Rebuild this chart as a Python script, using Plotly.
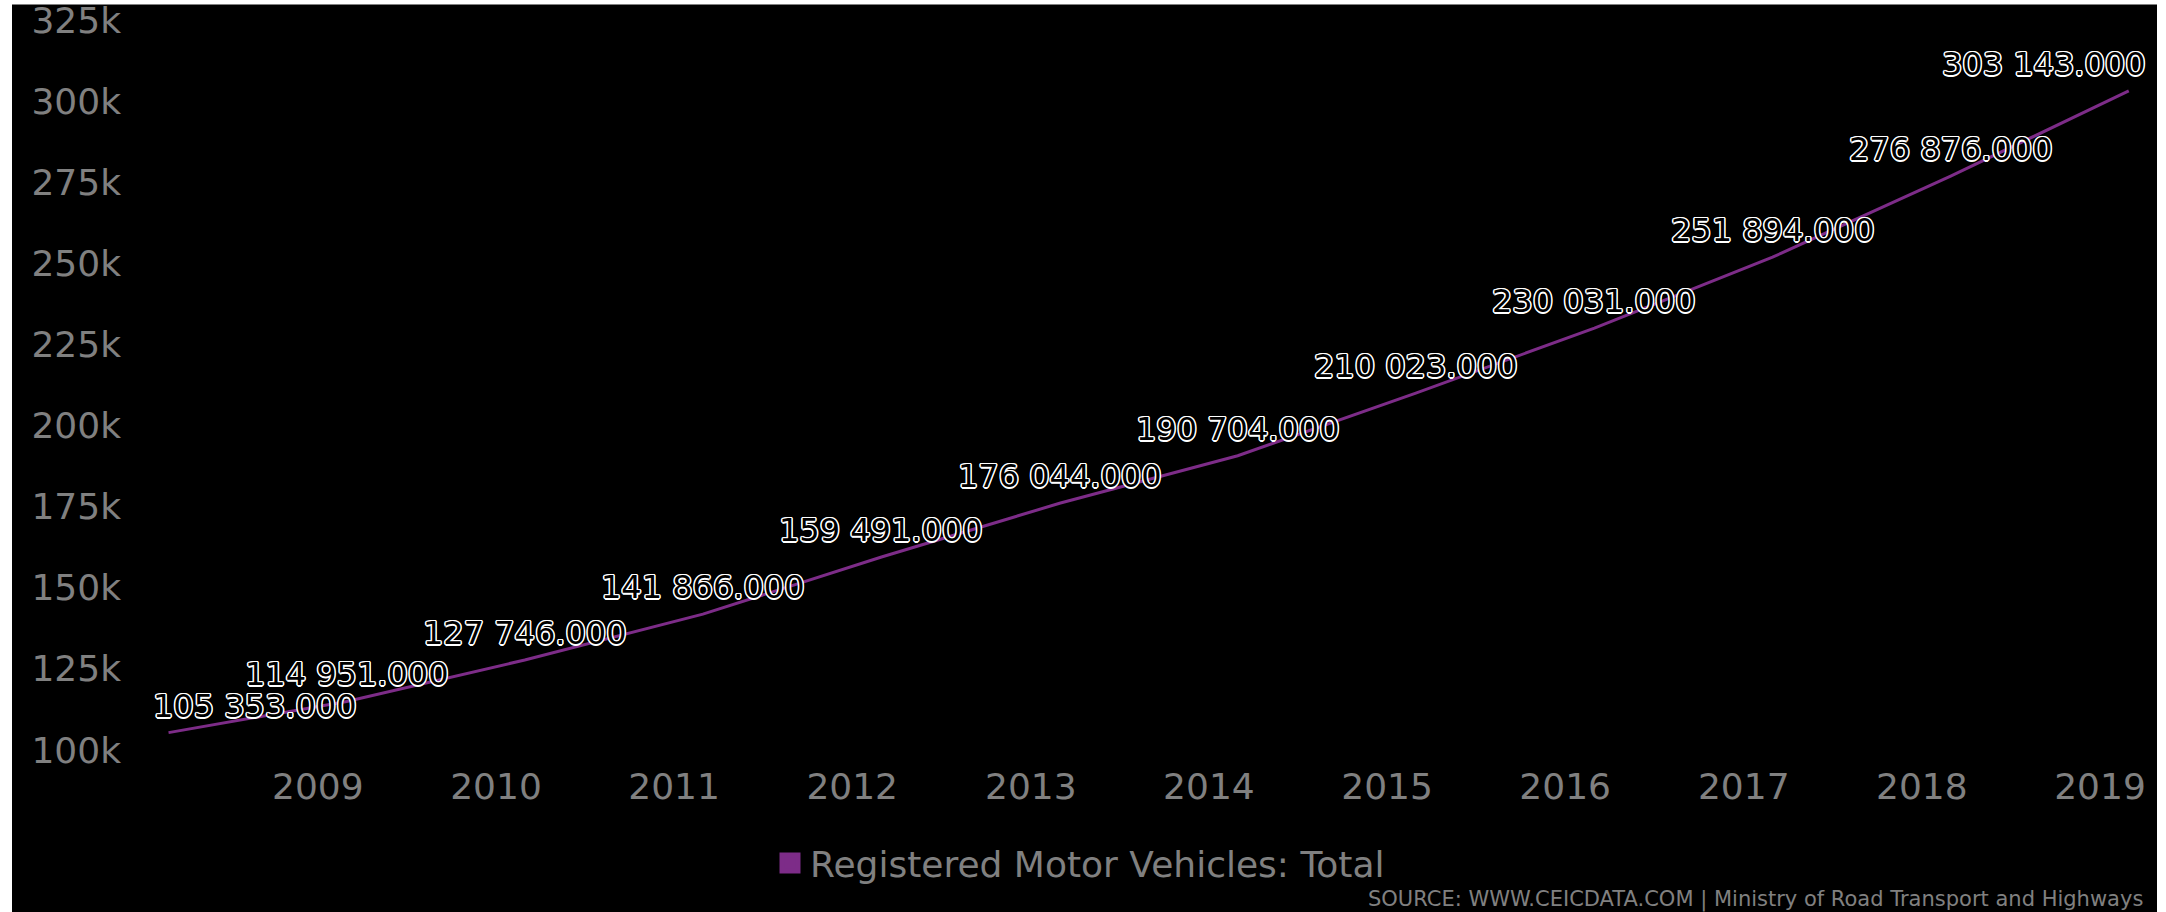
import plotly.graph_objects as go

# ---- data ----
dates = ["2008-03-01", "2009-03-01", "2010-03-01", "2011-03-01", "2012-03-01", "2013-03-01",
         "2014-03-01", "2015-03-01", "2016-03-01", "2017-03-01", "2018-03-01", "2019-03-01"]
values = [105353, 114951, 127746, 141866, 159491, 176044,
          190704, 210023, 230031, 251894, 276876, 303143]
series_name = "Registered Motor Vehicles: Total"
y_tickvals = [100000, 125000, 150000, 175000, 200000, 225000, 250000, 275000, 300000, 325000]
y_ticktext = ["100k", "125k", "150k", "175k", "200k", "225k", "250k", "275k", "300k", "325k"]
source_text = "SOURCE: WWW.CEICDATA.COM | Ministry of Road Transport and Highways"

# ---- style ----
LINE_COLOR = "#7D2C88"
GREY = "#808080"
FONT = "DejaVu Sans"
_offs = [(1.5, 0), (-1.5, 0), (0, 1.5), (0, -1.5), (1, 1), (-1, -1), (1, -1), (-1, 1)]
OUTLINE = ", ".join(f"white {dx}px {dy}px 0px" for dx, dy in _offs)


def fmt(v):
    return f"{v:,.3f}".replace(",", " ")


fig = go.Figure()
fig.add_trace(go.Scatter(
    x=dates, y=values, mode="lines",
    line=dict(color=LINE_COLOR, width=3),
    showlegend=False, hoverinfo="skip",
))
# legend entry (square patch)
fig.add_trace(go.Scatter(
    x=[None], y=[None], mode="markers", name=series_name,
    marker=dict(symbol="square", size=16, color=LINE_COLOR, line=dict(color=LINE_COLOR, width=5)),
))

annotations = []
n = len(values)
for i, (d, v) in enumerate(zip(dates, values)):
    if i == 0:
        xa, xs = "left", -18
    elif i == n - 1:
        xa, xs = "right", 19
    else:
        xa, xs = "center", 0
    annotations.append(dict(
        x=d, y=v, xref="x", yref="y", text=fmt(v), showarrow=False,
        xanchor=xa, yanchor="middle", xshift=xs, yshift=27,
        font=dict(family=FONT, size=32, color="black", shadow=OUTLINE),
    ))

annotations.append(dict(
    x=0.9975, y=-0.2048, xref="paper", yref="paper", text=source_text, showarrow=False,
    xanchor="right", yanchor="middle",
    font=dict(family=FONT, size=21, color=GREY),
))

fig.update_layout(
    width=2166, height=912,
    margin=dict(l=150, r=16, t=20, b=162, autoexpand=False),
    paper_bgcolor="white", plot_bgcolor="black",
    font=dict(family=FONT, color=GREY),
    showlegend=True,
    legend=dict(orientation="h", x=0.31, xanchor="left", y=-0.155, yanchor="middle",
                font=dict(family=FONT, size=36, color=GREY), bgcolor="rgba(0,0,0,0)"),
    xaxis=dict(type="date", range=["2008-01-23", "2019-04-13 12:00"],
               tick0="2009-01-01", dtick="M12", tickformat="%Y",
               showgrid=False, zeroline=False, showline=False, ticks="",
               automargin=False, ticklabelstandoff=12, ticklabeloverflow="allow",
               tickfont=dict(family=FONT, size=36, color=GREY)),
    yaxis=dict(range=[100000, 325000], tickvals=y_tickvals, ticktext=y_ticktext,
               showgrid=False, zeroline=False, showline=False, ticks="",
               automargin=False, ticklabelstandoff=28, ticklabeloverflow="allow",
               tickfont=dict(family=FONT, size=36, color=GREY)),
    annotations=annotations,
    shapes=[dict(type="rect", xref="paper", yref="paper", layer="below",
                 x0=-0.069, x1=1.0035, y0=-0.3, y1=1.0212,
                 fillcolor="black", line=dict(width=0))],
)

fig.write_html("out.html")
